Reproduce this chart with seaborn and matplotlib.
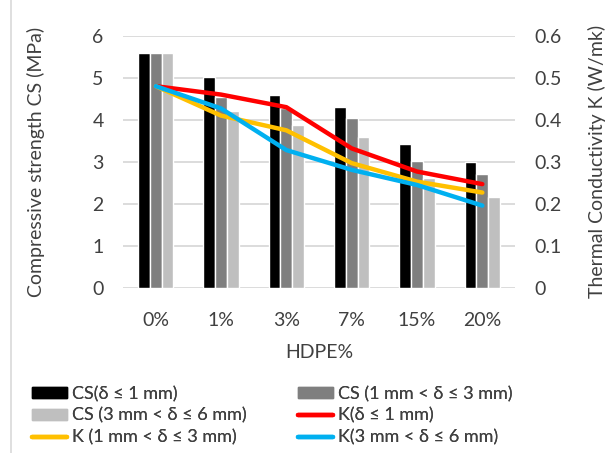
import numpy as np
import pandas as pd
import matplotlib
matplotlib.use("Agg")
import matplotlib.pyplot as plt
import seaborn as sns
from matplotlib.lines import Line2D

# HDPE content categories
hdpe = ["0%", "1%", "3%", "7%", "15%", "20%"]

# Compressive strength (MPa) by aggregate size class
cs_small = [5.60, 5.02, 4.58, 4.30, 3.42, 2.99]
cs_mid = [5.60, 4.55, 4.27, 4.05, 3.01, 2.70]
cs_large = [5.60, 4.20, 3.87, 3.60, 2.61, 2.17]

# Thermal conductivity (W/mK) by aggregate size class
k_small = [0.48, 0.46, 0.43, 0.332, 0.277, 0.247]
k_mid = [0.48, 0.41, 0.375, 0.297, 0.253, 0.227]
k_large = [0.48, 0.427, 0.328, 0.281, 0.245, 0.196]

cs_labels = ["CS(δ ≤ 1 mm)", "CS (1 mm < δ ≤ 3 mm)", "CS (3 mm < δ ≤ 6 mm)"]
k_labels = ["K(δ ≤ 1 mm)", "K (1 mm < δ ≤ 3 mm)", "K(3 mm < δ ≤ 6 mm)"]

bar_colors = ["#000000", "#7f7f7f", "#bfbfbf"]
line_colors = ["#ff0000", "#ffc000", "#00b0f0"]

sns.set_theme(style="white")
plt.rcParams["font.family"] = ["Lato", "DejaVu Sans"]
text_color = "#404040"
axis_fs = 14
legend_fs = 13

cs_df = pd.DataFrame({
    "HDPE": hdpe * 3,
    "CS": cs_small + cs_mid + cs_large,
    "size": sum([[lab] * len(hdpe) for lab in cs_labels], []),
})

W, H = 606, 453
fig = plt.figure(figsize=(W / 100, H / 100), dpi=100)
ax = fig.add_axes([123 / W, 1 - 288 / H, (515 - 123) / W, (288 - 35.7) / H])

sns.barplot(data=cs_df, x="HDPE", y="CS", hue="size", order=hdpe,
            hue_order=cs_labels, palette=bar_colors, width=0.54, gap=0,
            saturation=1, errorbar=None, ax=ax, legend=False, zorder=2)

ax.set_ylim(0, 6)
ax.set_yticks(range(0, 7))
ax.set_xlim(-0.5, len(hdpe) - 0.5)
ax.yaxis.grid(True, color="#d9d9d9", linewidth=1.3, zorder=0)
ax.set_axisbelow(True)
for s in ax.spines.values():
    s.set_visible(False)
ax.tick_params(axis="both", length=0, labelsize=axis_fs, colors=text_color)
ax.tick_params(axis="y", pad=14)
ax.tick_params(axis="x", pad=17)
ax.set_xlabel("HDPE%", fontsize=axis_fs, color=text_color)
ax.set_ylabel("Compressive strength CS (MPa)", fontsize=axis_fs, color=text_color)
ax.xaxis.set_label_coords(0.5, -0.222)
ax.yaxis.set_label_coords(-0.200, 0.5)

ax2 = ax.twinx()
x_pos = np.arange(len(hdpe))
for vals, col in zip([k_small, k_mid, k_large], line_colors):
    sns.lineplot(x=x_pos, y=vals, color=col, linewidth=3.2, ax=ax2,
                 solid_capstyle="round", solid_joinstyle="round")
ax2.set_ylim(0, 0.6)
ax2.set_yticks(np.arange(0, 0.61, 0.1))
ax2.set_yticklabels(["0", "0.1", "0.2", "0.3", "0.4", "0.5", "0.6"])
for s in ax2.spines.values():
    s.set_visible(False)
ax2.tick_params(axis="y", length=0, labelsize=axis_fs, colors=text_color, pad=14)
ax2.set_ylabel("Thermal Conductivity K (W/mk)", fontsize=axis_fs, color=text_color)
ax2.yaxis.set_label_coords(1.186, 0.5)

# legend: two columns, filled row by row
bar_handles = [plt.Rectangle((0, 0), 1, 1, color=c) for c in bar_colors]
line_handles = [Line2D([0], [0], color=c, linewidth=3.2) for c in line_colors]
handles = bar_handles + line_handles
labels = cs_labels + k_labels
columns = [([0, 2, 4], 32), ([1, 3, 5], 298)]
legend_kw = dict(loc="upper left", frameon=False, fontsize=legend_fs,
                 handlelength=1.95, handleheight=0.55, handletextpad=0.25,
                 labelspacing=0.31, borderpad=0, borderaxespad=0,
                 labelcolor=text_color)
for idx, x0 in columns:
    leg = fig.legend([handles[i] for i in idx], [labels[i] for i in idx],
                     bbox_to_anchor=(x0 / W, 1 - 386 / H), **legend_kw)
    fig.add_artist(leg)

# chart-area border on the left
fig.add_artist(Line2D([11 / W, 11 / W], [0, 1], transform=fig.transFigure,
                      color="#d9d9d9", linewidth=1.2))

fig.savefig("out.png", dpi=100)
